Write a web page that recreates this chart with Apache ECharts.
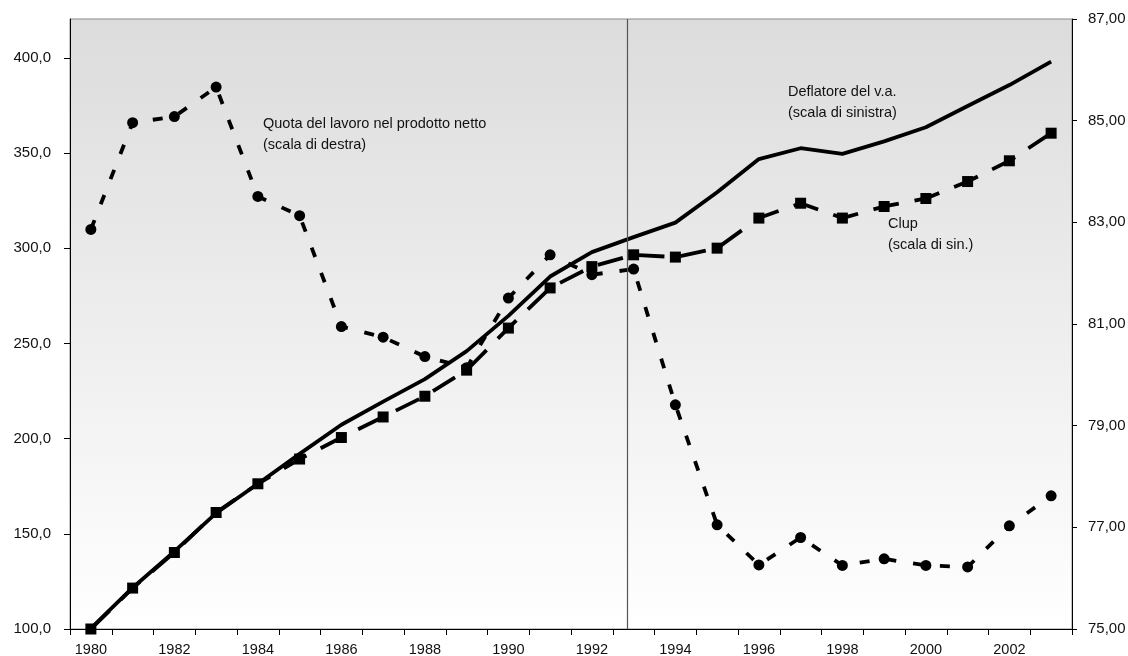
<!DOCTYPE html>
<html>
<head>
<meta charset="utf-8">
<script src="https://cdn.jsdelivr.net/npm/echarts@6/dist/echarts.min.js"></script>
<style>html,body{margin:0;padding:0;background:#fff}#c{width:1128px;height:656px}</style>
</head>
<body>
<div id="c"></div>
<script>
const years = ['1980','1981','1982','1983','1984','1985','1986','1987','1988','1989','1990','1991','1992','1993','1994','1995','1996','1997','1998','1999','2000','2001','2002','2003'];
const deflatore = [100.3, 121.7, 140.8, 160.9, 176.3, 192.0, 207.3, 219.5, 231.3, 246.0, 264.5, 285.2, 298.0, 305.9, 313.5, 329.5, 346.9, 352.6, 349.6, 356.2, 363.6, 374.8, 385.8, 398.1];
const clup = [100.0, 121.5, 140.2, 161.2, 176.3, 189.3, 200.6, 211.4, 222.3, 236.0, 258.1, 279.2, 290.4, 296.6, 295.4, 300.1, 315.9, 323.7, 315.9, 322.0, 326.2, 335.1, 346.0, 360.5];
const quota = [82.86, 84.96, 85.08, 85.66, 83.51, 83.13, 80.95, 80.74, 80.36, 80.14, 81.51, 82.36, 81.97, 82.08, 79.41, 77.05, 76.26, 76.80, 76.25, 76.38, 76.25, 76.22, 77.03, 77.62];
const leftTicks = [100, 150, 200, 250, 300, 350, 400];
const rightTicks = [75, 77, 79, 81, 83, 85, 87];
const breakYear = 1992.84;
const notes = [
  {lines: ['Quota del lavoro nel prodotto netto', '(scala di destra)'], x: 263, y: 116},
  {lines: ['Deflatore del v.a.', '(scala di sinistra)'], x: 788, y: 84},
  {lines: ['Clup', '(scala di sin.)'], x: 888, y: 216}
];

const FONT = 'Liberation Sans, Arial, sans-serif';
const chart = echarts.init(document.getElementById('c'), null, {renderer: 'canvas'});

const graphics = [];
notes.forEach(n => {
  n.lines.forEach((t, i) => {
    graphics.push({type: 'text', left: n.x, top: n.y + i * 21, z: 100,
      style: {text: t, fill: '#111', font: '14.5px ' + FONT}});
  });
});

chart.setOption({
  animation: false,
  backgroundColor: '#ffffff',
  textStyle: {fontFamily: FONT},
  grid: {
    left: 70, right: 56, top: 19, bottom: 27,
    containLabel: false,
    outerBoundsMode: 'none',
    show: true,
    borderColor: '#8a8a8a', borderWidth: 1,
    backgroundColor: new echarts.graphic.LinearGradient(0, 0, 0, 1, [
      {offset: 0, color: '#dcdcdc'},
      {offset: 1, color: '#ffffff'}
    ])
  },
  xAxis: [{
    type: 'category', data: years, boundaryGap: true,
    axisLine: {lineStyle: {color: '#000', width: 1}},
    axisTick: {show: true, interval: 0, length: 6, lineStyle: {color: '#000'}},
    axisLabel: {interval: 1, color: '#111', fontSize: 14.5, fontFamily: FONT, margin: 13},
    splitLine: {show: false}
  }, {
    type: 'value', min: 1979.5, max: 2003.5, show: false
  }],
  yAxis: [{
    type: 'value', min: 100, max: 420.5, position: 'left',
    axisLine: {show: true, lineStyle: {color: '#000'}},
    axisTick: {show: true, length: 6, customValues: leftTicks, lineStyle: {color: '#000'}},
    axisLabel: {customValues: leftTicks, color: '#111', fontSize: 15, fontFamily: FONT, margin: 19,
      formatter: v => v.toFixed(1).replace('.', ',')},
    splitLine: {show: false}
  }, {
    type: 'value', min: 75, max: 87, interval: 2, position: 'right',
    axisLine: {show: true, lineStyle: {color: '#000'}},
    axisTick: {show: true, length: 5, inside: false, lineStyle: {color: '#000'}},
    axisLabel: {color: '#111', fontSize: 15, fontFamily: FONT, margin: 16,
      formatter: v => v.toFixed(2).replace('.', ',')},
    splitLine: {show: false}
  }],
  series: [{
    name: 'Deflatore del v.a.', type: 'line', data: deflatore, yAxisIndex: 0,
    showSymbol: false, symbol: 'none',
    lineStyle: {color: '#000', width: 3.8}
  }, {
    name: 'Clup', type: 'line', data: clup, yAxisIndex: 0,
    symbol: 'rect', symbolSize: 11, itemStyle: {color: '#000'},
    lineStyle: {color: '#000', width: 3.8, type: [26, 16]}
  }, {
    name: 'Quota del lavoro nel prodotto netto', type: 'line', data: quota, yAxisIndex: 1,
    symbol: 'circle', symbolSize: 11, itemStyle: {color: '#000'},
    lineStyle: {color: '#000', width: 3.8, type: [10, 17]}
  }, {
    name: 'break', type: 'line', xAxisIndex: 1, yAxisIndex: 0, data: [],
    markLine: {
      silent: true, symbol: 'none', label: {show: false},
      lineStyle: {color: '#555', width: 1.2, type: 'solid'},
      data: [{xAxis: breakYear}]
    }
  }],
  graphic: graphics
});
</script>
</body>
</html>
